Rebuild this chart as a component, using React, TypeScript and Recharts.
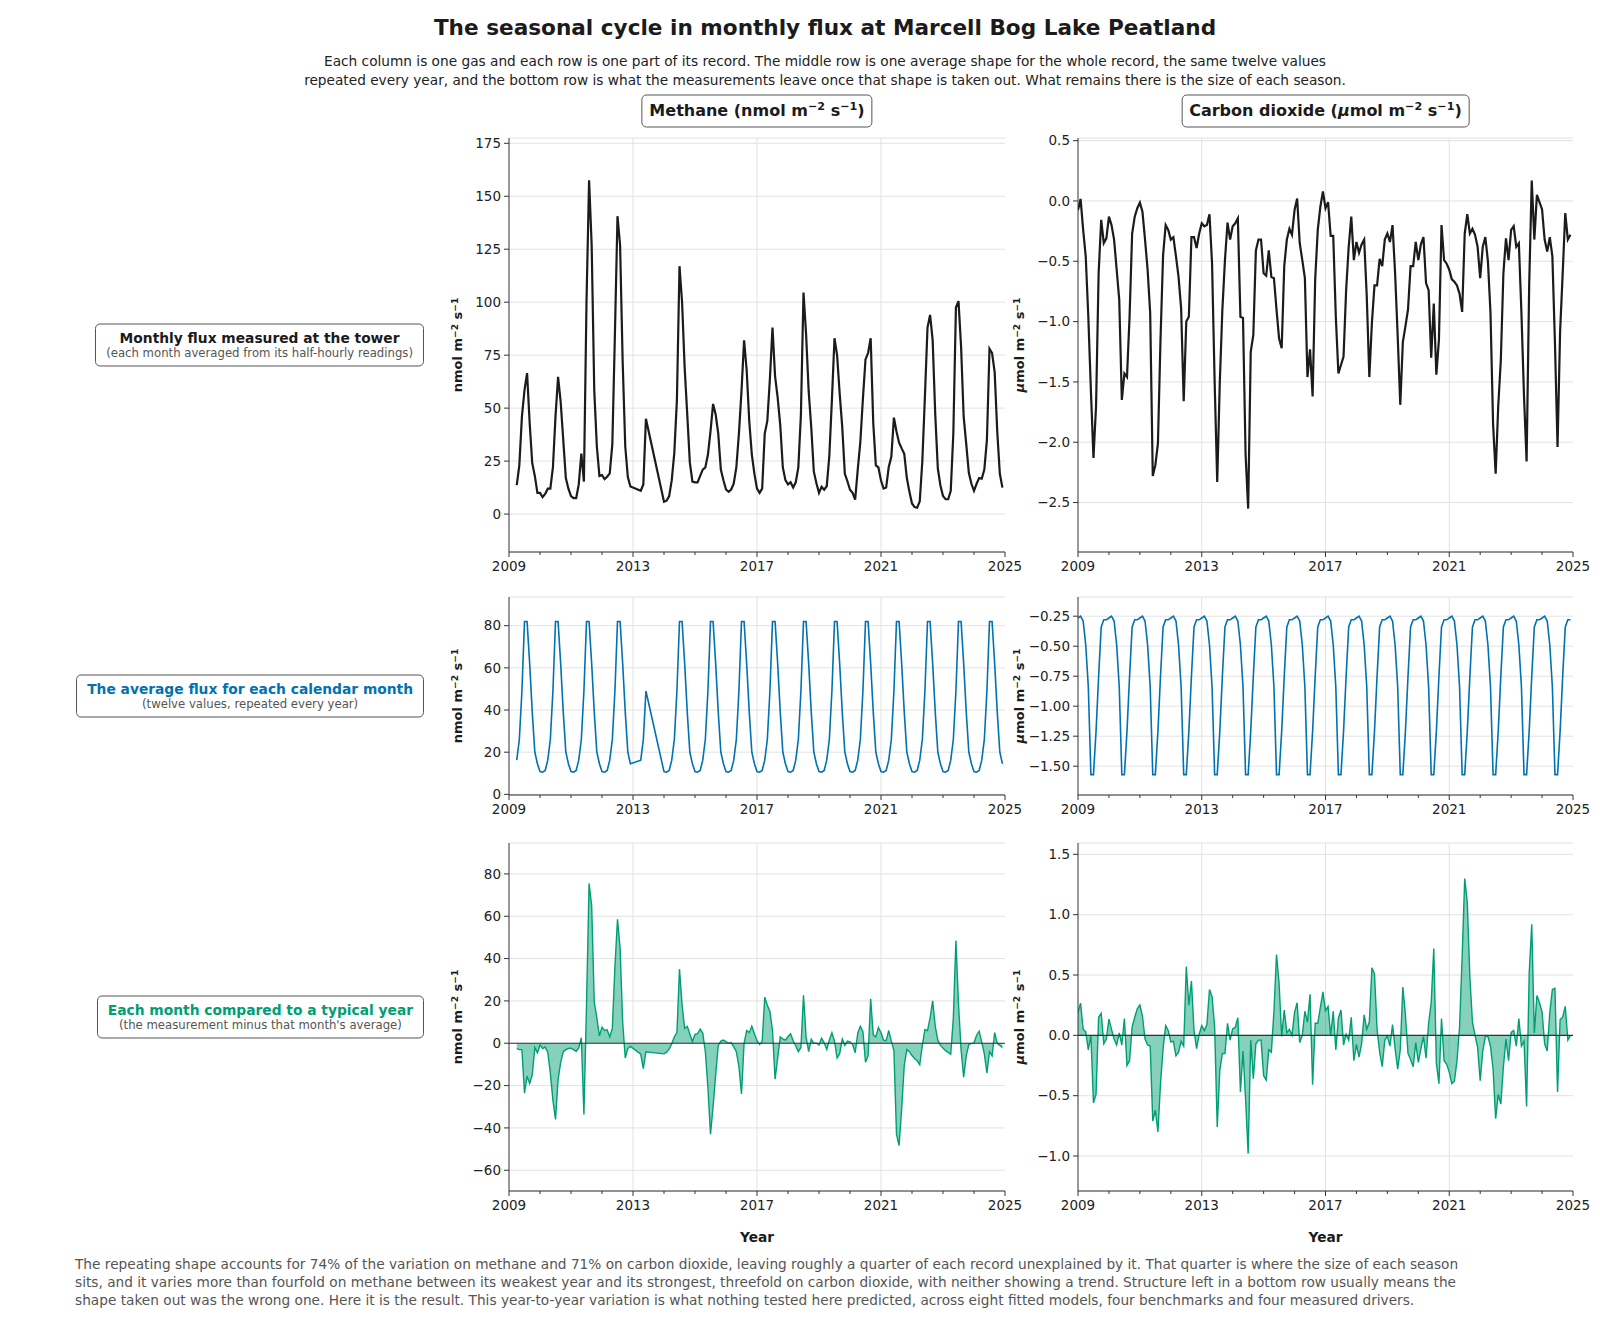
import { LineChart, Line, AreaChart, Area, XAxis, YAxis, CartesianGrid, ReferenceLine } from "recharts";

const FIRST_YEAR = 2009;
const tickYears = [2009, 2010, 2011, 2012, 2013, 2014, 2015, 2016, 2017, 2018, 2019, 2020, 2021, 2022, 2023, 2024, 2025];
const labelledYears = [2009, 2013, 2017, 2021, 2025];
const gridYears = [2013, 2017, 2021];

// monthly methane flux, Jan 2009 .. Dec 2024 (null = no data)
const methaneMonthly: (number | null)[] = [
  null, null, null, 13.7, 23, 46, 58.5, 66.5, 43, 24, 18, 10,
  10, 8, 9.5, 12, 12, 22, 46, 64.8, 53, 35, 17, 12,
  8.5, 7.5, 7.5, 14, 28.6, 15.3, 100, 157.5, 127, 58.5, 32, 18,
  18.4, 16.5, 17.6, 19.2, 33, 85, 140.6, 127, 72, 32, 17.5, 13,
  null, null, null, 11, 14, 45, null, null, null, null, null, null,
  5.8, 6.3, 8.5, 16, 29, 54, 117, 100, 69, 47, 24.4, 15.3,
  15, 15, 18, 21, 22, 28, 39, 52, 47, 38, 21, 16,
  11.6, 10.5, 11.6, 14.5, 22, 38, 58, 82, 68, 44, 28, 19,
  12, 10, 12, 38, 44, 64, 88, 65, 55, 42, 22, 16,
  14, 15, 12.5, 15, 22, 47, 104.6, 85, 58, 41, 20, 14.5,
  10, 12.9, 11.5, 13.2, 27.5, 54, 83, 75, 57, 41, 19, 15.5,
  11.5, 10, 6.8, 21, 34, 54.5, 73, 76, 83, 43, 23, 22,
  15.8, 12, 12.5, 22.2, 27, 45.5, 39, 33.7, 31, 28.5, 17, 10.5,
  5, 3.3, 3, 6, 25, 55.5, 88, 94, 82, 47, 21.5, 13.5,
  8.5, 7, 7, 11, 38, 97.5, 100.5, 79, 46, 33, 19.5, 14.3,
  11, 14.3, 17, 16.7, 21, 35, 78, 76, 67, 39, 19, 12.5,
];

// monthly CO2 flux, Jan 2009 .. Dec 2024
const co2Monthly: (number | null)[] = [
  -0.075, 0.017, -0.24, -0.46, -0.96, -1.57, -2.13, -1.7, -0.6, -0.157, -0.35, -0.31,
  -0.13, -0.2, -0.32, -0.57, -0.82, -1.65, -1.43, -1.46, -0.96, -0.27, -0.13, -0.06,
  -0.014, -0.09, -0.32, -0.57, -0.93, -2.28, -2.19, -2.01, -1.15, -0.45, -0.2, -0.24,
  -0.32, -0.3, -0.46, -0.63, -0.89, -1.66, -1.0, -0.96, -0.3, -0.3, -0.39, -0.27,
  -0.185, -0.21, -0.2, -0.11, -0.52, -1.5, -2.33, -1.5, -0.9, -0.49, -0.18, -0.32,
  -0.21, -0.185, -0.144, -0.96, -0.97, -2.1, -2.55, -1.25, -1.11, -0.41, -0.32, -0.32,
  -0.6, -0.62, -0.41, -0.63, -0.64, -0.9, -1.14, -1.22, -0.54, -0.32, -0.23, -0.28,
  -0.075, 0.02, -0.35, -0.49, -0.64, -1.46, -1.23, -1.62, -0.65, -0.24, -0.05, 0.08,
  -0.06, -0.01, -0.29, -0.29, -0.96, -1.43, -1.36, -1.29, -0.74, -0.38, -0.13, -0.49,
  -0.34, -0.43, -0.36, -0.32, -0.79, -1.46, -1.01, -0.7, -0.7, -0.48, -0.54, -0.32,
  -0.27, -0.34, -0.2, -0.6, -1.12, -1.69, -1.17, -1.04, -0.9, -0.54, -0.54, -0.34,
  -0.49, -0.36, -0.3, -0.68, -0.74, -1.3, -0.85, -1.44, -1.15, -0.2, -0.49, -0.52,
  -0.57, -0.65, -0.67, -0.7, -0.77, -0.92, -0.27, -0.11, -0.27, -0.23, -0.28, -0.38,
  -0.64, -0.38, -0.3, -0.5, -0.93, -1.85, -2.26, -1.7, -1.32, -0.6, -0.31, -0.49,
  -0.24, -0.21, -0.38, -0.35, -0.93, -1.62, -2.16, -0.7, 0.17, -0.32, 0.05, -0.01,
  -0.07, -0.32, -0.42, -0.3, -0.46, -1.18, -2.04, -1.08, -0.6, -0.1, -0.32, -0.28,
];

// average for each calendar month, Jan .. Dec
const methaneTypical = [10.8, 10.5, 11.3, 16.2, 26, 49, 82, 82, 62, 39, 20, 14.5];
const co2Typical = [-0.265, -0.25, -0.29, -0.49, -0.84, -1.57, -1.57, -1.21, -0.75, -0.34, -0.28, -0.28];

// y tick labels
const methaneTopTicks = [0, 25, 50, 75, 100, 125, 150, 175];
const methaneMidTicks = [0, 20, 40, 60, 80];
const methaneLowTicks = [-60, -40, -20, 0, 20, 40, 60, 80];
const co2TopTicks = [-2.5, -2, -1.5, -1, -0.5, 0, 0.5];
const co2MidTicks = [-1.5, -1.25, -1, -0.75, -0.5, -0.25];
const co2LowTicks = [-1, -0.5, 0, 0.5, 1, 1.5];

const FONT = "'DejaVu Sans', sans-serif";
const INK = "#1b1b1b";
const BLUE = "#0072B2";
const GREEN = "#009E73";
const AXIS = "#333";
const GRID = "#e2e2e2";
const TICK_FONT = 13.5;

type Row = { t: number; obs: number | null; typical: number | null; anomaly: number | null };

const buildRows = (obs: (number | null)[], typical: number[]): Row[] =>
  obs.map((v, i) => ({
    t: FIRST_YEAR + i / 12,
    obs: v,
    typical: v === null ? null : typical[i % 12],
    anomaly: v === null ? null : Math.round((v - typical[i % 12]) * 1000) / 1000,
  }));

const methaneRows = buildRows(methaneMonthly, methaneTypical);
const co2Rows = buildRows(co2Monthly, co2Typical);

const minus = (s: string) => s.replace("-", "\u2212");

const YearTick = (props: any) => {
  const { x, y, payload } = props;
  const major = labelledYears.includes(payload.value);
  return (
    <g>
      <line x1={x} x2={x} y1={y} y2={y + (major ? 5 : 3)} stroke={AXIS} strokeWidth={1} />
      {major && (
        <text x={x} y={y + 9} dy="0.71em" textAnchor="middle" fontSize={TICK_FONT} fill="#222" fontFamily={FONT}>
          {payload.value}
        </text>
      )}
    </g>
  );
};

type PanelProps = {
  rows: Row[];
  field: "obs" | "typical" | "anomaly";
  plotX: number;
  plotY: number;
  plotW: number;
  plotH: number;
  domain: [number, number];
  ticks: number[];
  digits: number;
};

const Panel = ({ rows, field, plotX, plotY, plotW, plotH, domain, ticks, digits }: PanelProps) => {
  const yw = 64;
  const width = yw + plotW + 24;
  const height = 10 + plotH + 30;
  const common = {
    width,
    height,
    data: rows,
    margin: { top: 10, right: 24, bottom: 0, left: 0 },
  };
  const axes = [
    <CartesianGrid key="g" stroke={GRID} strokeWidth={1} verticalValues={gridYears} />,
    <XAxis
      key="x"
      type="number"
      dataKey="t"
      domain={[2009, 2025]}
      ticks={tickYears}
      interval={0}
      allowDataOverflow
      tick={<YearTick />}
      tickLine={false}
      tickSize={0}
      tickMargin={0}
      height={30}
      axisLine={{ stroke: AXIS, strokeWidth: 1 }}
    />,
    <YAxis
      key="y"
      type="number"
      domain={domain}
      ticks={ticks}
      interval={0}
      allowDataOverflow
      width={yw}
      tickFormatter={(v: number) => minus(v.toFixed(digits))}
      tick={{ fontSize: TICK_FONT, fill: "#222", fontFamily: FONT }}
      tickSize={5}
      tickMargin={3}
      tickLine={{ stroke: AXIS }}
      axisLine={{ stroke: AXIS, strokeWidth: 1 }}
    />,
  ];
  return (
    <div style={{ position: "absolute", left: plotX - yw, top: plotY - 10 }}>
      {field === "anomaly" ? (
        <AreaChart {...common}>
          {axes}
          <Area
            type="linear"
            dataKey="anomaly"
            baseValue={0}
            stroke={GREEN}
            strokeWidth={1.4}
            fill={GREEN}
            fillOpacity={0.48}
            connectNulls
            dot={false}
            activeDot={false}
            isAnimationActive={false}
          />
          <ReferenceLine y={0} stroke={AXIS} strokeWidth={1.2} />
        </AreaChart>
      ) : (
        <LineChart {...common}>
          {axes}
          <Line
            type="linear"
            dataKey={field}
            stroke={field === "obs" ? INK : BLUE}
            strokeWidth={field === "obs" ? 2.2 : 1.6}
            connectNulls
            dot={false}
            activeDot={false}
            isAnimationActive={false}
          />
        </LineChart>
      )}
    </div>
  );
};

const cols = [
  { plotX: 509, plotW: 496, labelX: 458 },
  { plotX: 1078, plotW: 495, labelX: 1020 },
];
const rowsLayout = [
  { plotY: 138, plotH: 414 },
  { plotY: 597, plotH: 198 },
  { plotY: 843, plotH: 348 },
];

const supStyle = { fontSize: "0.7em", verticalAlign: "0.45em", lineHeight: 0 };

const Unit = ({ mu }: { mu?: boolean }) => (
  <span>
    {mu ? <i>μ</i> : "n"}mol m<sup style={supStyle}>−2</sup> s<sup style={supStyle}>−1</sup>
  </span>
);

const rowLabels = [
  { title: "Monthly flux measured at the tower", note: "(each month averaged from its half-hourly readings)", color: INK },
  { title: "The average flux for each calendar month", note: "(twelve values, repeated every year)", color: BLUE },
  { title: "Each month compared to a typical year", note: "(the measurement minus that month's average)", color: GREEN },
];

export default function App() {
  const panels = [
    { rows: methaneRows, field: "obs", col: 0, row: 0, domain: [-17.9, 177.5], ticks: methaneTopTicks, digits: 0 },
    { rows: co2Rows, field: "obs", col: 1, row: 0, domain: [-2.91, 0.522], ticks: co2TopTicks, digits: 1 },
    { rows: methaneRows, field: "typical", col: 0, row: 1, domain: [-0.3, 93.6], ticks: methaneMidTicks, digits: 0 },
    { rows: co2Rows, field: "typical", col: 1, row: 1, domain: [-1.74, -0.09], ticks: co2MidTicks, digits: 2 },
    { rows: methaneRows, field: "anomaly", col: 0, row: 2, domain: [-69.8, 94.6], ticks: methaneLowTicks, digits: 0 },
    { rows: co2Rows, field: "anomaly", col: 1, row: 2, domain: [-1.29, 1.594], ticks: co2LowTicks, digits: 1 },
  ] as const;

  return (
    <div
      style={{
        position: "absolute",
        left: 0,
        top: 0,
        width: 1600,
        height: 1322,
        background: "#fff",
        fontFamily: FONT,
        color: "#222",
        overflow: "hidden",
      }}
    >
      <div style={{ position: "absolute", left: 0, width: 1650, top: 14, textAlign: "center", fontSize: 21.6, fontWeight: "bold", lineHeight: "28px", color: INK }}>
        The seasonal cycle in monthly flux at Marcell Bog Lake Peatland
      </div>
      <div style={{ position: "absolute", left: 0, width: 1650, top: 52, textAlign: "center", fontSize: 13.7, lineHeight: "19px", color: "#222" }}>
        Each column is one gas and each row is one part of its record. The middle row is one average shape for the whole record, the same twelve values
        <br />
        repeated every year, and the bottom row is what the measurements leave once that shape is taken out. What remains there is the size of each season.
      </div>

      {cols.map((c, i) => (
        <div
          key={"h" + i}
          style={{
            position: "absolute",
            left: c.plotX + c.plotW / 2,
            top: 110.5,
            transform: "translate(-50%, -50%)",
            border: "1.3px solid #555",
            borderRadius: 5,
            padding: "5px 7px 6px",
            fontSize: 16,
            fontWeight: "bold",
            whiteSpace: "nowrap",
            lineHeight: "20px",
            color: INK,
            background: "#fff",
          }}
        >
          {i === 0 ? "Methane (" : "Carbon dioxide ("}
          <Unit mu={i === 1} />)
        </div>
      ))}

      {rowLabels.map((r, i) => (
        <div
          key={"r" + i}
          style={{
            position: "absolute",
            right: 1600 - 424,
            top: rowsLayout[i].plotY + rowsLayout[i].plotH / 2,
            transform: "translateY(-50%)",
            border: "1.3px solid #555",
            borderRadius: 5,
            padding: "5px 10px 6px",
            textAlign: "center",
            whiteSpace: "nowrap",
            background: "#fff",
          }}
        >
          <div style={{ fontSize: 13.8, fontWeight: "bold", color: r.color, lineHeight: "16px" }}>{r.title}</div>
          <div style={{ fontSize: 11.7, color: "#555", lineHeight: "14px" }}>{r.note}</div>
        </div>
      ))}

      {panels.map((p, i) => {
        const c = cols[p.col];
        const r = rowsLayout[p.row];
        return (
          <div key={"p" + i}>
            <Panel
              rows={p.rows}
              field={p.field}
              plotX={c.plotX}
              plotY={r.plotY}
              plotW={c.plotW}
              plotH={r.plotH}
              domain={p.domain as [number, number]}
              ticks={p.ticks as unknown as number[]}
              digits={p.digits}
            />
            <div
              style={{
                position: "absolute",
                left: c.labelX,
                top: r.plotY + r.plotH / 2,
                transform: "translate(-50%, -50%) rotate(-90deg)",
                fontSize: 13,
                fontWeight: "bold",
                whiteSpace: "nowrap",
                lineHeight: "16px",
                color: INK,
              }}
            >
              <Unit mu={p.col === 1} />
            </div>
          </div>
        );
      })}

      {cols.map((c, i) => (
        <div
          key={"yr" + i}
          style={{
            position: "absolute",
            left: c.plotX + c.plotW / 2,
            top: 1237,
            transform: "translate(-50%, -50%)",
            fontSize: 13.7,
            fontWeight: "bold",
            color: INK,
          }}
        >
          Year
        </div>
      ))}

      <div style={{ position: "absolute", left: 75, top: 1255, fontSize: 13.7, lineHeight: "18px", color: "#555", whiteSpace: "nowrap" }}>
        The repeating shape accounts for 74% of the variation on methane and 71% on carbon dioxide, leaving roughly a quarter of each record unexplained by it. That quarter is where the size of each season
        <br />
        sits, and it varies more than fourfold on methane between its weakest year and its strongest, threefold on carbon dioxide, with neither showing a trend. Structure left in a bottom row usually means the
        <br />
        shape taken out was the wrong one. Here it is the result. This year-to-year variation is what nothing tested here predicted, across eight fitted models, four benchmarks and four measured drivers.
      </div>
    </div>
  );
}
